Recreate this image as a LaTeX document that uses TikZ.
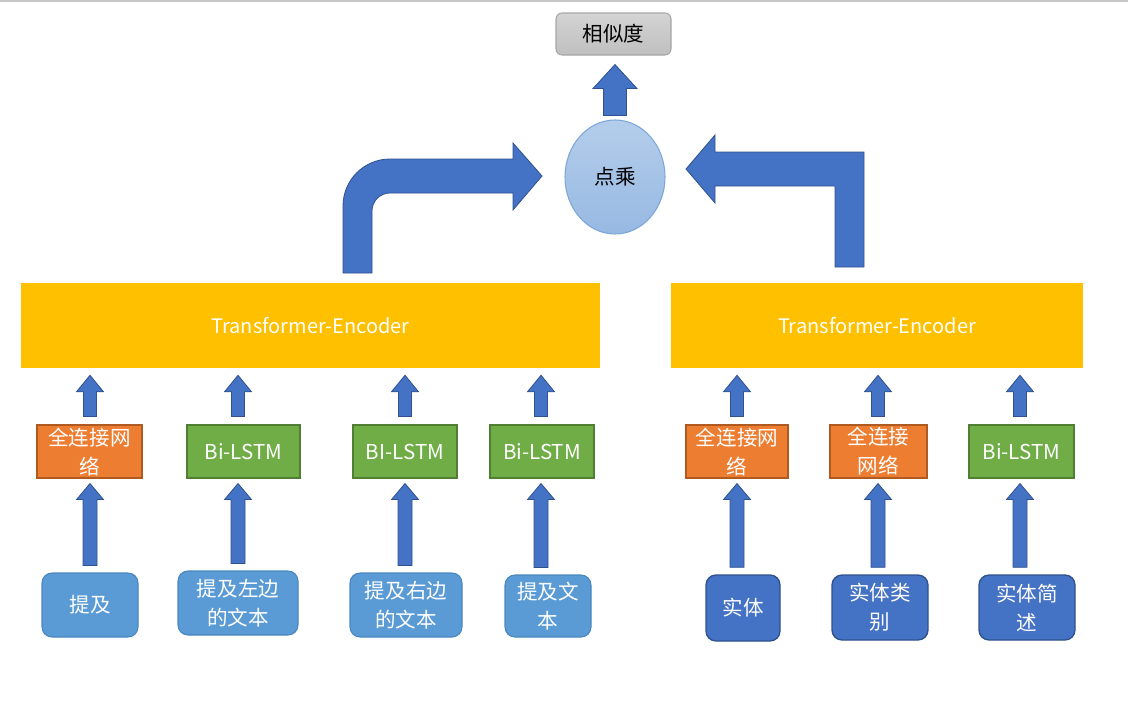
\documentclass[tikz,border=0pt]{standalone}
\usepackage{fontspec}
\setmainfont{Noto Sans CJK SC}
\usetikzlibrary{calc,shapes.geometric}
\definecolor{arrowblue}{HTML}{4472C4}
\definecolor{arrowedge}{HTML}{2F528F}
\definecolor{tfyellow}{HTML}{FFC000}
\definecolor{fcorange}{HTML}{ED7D31}
\definecolor{fcedge}{HTML}{AE5A21}
\definecolor{lstmgreen}{HTML}{70AD47}
\definecolor{lstmedge}{HTML}{507E32}
\definecolor{inlight}{HTML}{5B9BD5}
\definecolor{inlightedge}{HTML}{4A87C0}
\definecolor{indark}{HTML}{4472C4}
\definecolor{indarkedge}{HTML}{2F528F}
\definecolor{elltop}{HTML}{B4CDEB}
\definecolor{ellbot}{HTML}{97B9E2}
\definecolor{elledge}{HTML}{7DA7DA}
\tikzset{
  sz/.style 2 args={minimum width=#1*0.75pt, minimum height=#2*0.75pt},
  box/.style={inner sep=0pt, align=center, text=white,
    font=\fontsize{15.4pt}{21.75pt}\selectfont},
  tfbox/.style={box, fill=tfyellow, font=\fontsize{15pt}{18pt}\selectfont},
  fcbox/.style={box, fill=fcorange, draw=fcedge, line width=0.8pt},
  lstmbox/.style={box, fill=lstmgreen, draw=lstmedge, line width=0.8pt},
  inlightbox/.style={box, fill=inlight, draw=inlightedge, rounded corners=7.5pt, line width=0.8pt},
  indarkbox/.style={box, fill=indark, draw=indarkedge, rounded corners=7.5pt, line width=1pt},
  simbox/.style={box, text=black, top color=black!17, bottom color=black!25, draw=black!35,
    rounded corners=4.5pt, line width=0.8pt},
  dotell/.style={box, text=black, ellipse, top color=elltop, bottom color=ellbot, draw=elledge,
    line width=0.8pt},
  blockarr/.style={fill=arrowblue, draw=arrowedge, line width=0.6pt, line join=miter},
}
% block arrow pointing up: #1 base point, #2 tip point, #3 shaft half-width, #4 head half-width, #5 head length (px)
\newcommand\blockarrow[5]{%
  \path[blockarr] let \p1=#1, \p2=#2 in
    ({\x1-#3*0.75pt},{\y1}) -- ({\x1-#3*0.75pt},{\y2-#5*0.75pt})
    -- ({\x1-#4*0.75pt},{\y2-#5*0.75pt}) -- ({\x1},{\y2})
    -- ({\x1+#4*0.75pt},{\y2-#5*0.75pt}) -- ({\x1+#3*0.75pt},{\y2-#5*0.75pt})
    -- ({\x1+#3*0.75pt},{\y1}) -- cycle;}
\begin{document}
\begin{tikzpicture}[x=0.75pt,y=-0.75pt]
\useasboundingbox (0,0) rectangle (1128,721);
\draw[black!22, line width=1.5pt] (0,0.8) -- (1128,0.8);

% top
\node[simbox, sz={115}{42}] (sim) at (613.5,34) {相似度};
\node[dotell, sz={100}{114}] (dot) at (615,177) {点乘};

% transformers
\node[tfbox, sz={579}{85}] (tfL) at (310.5,325.5) {Transformer-Encoder};
\node[tfbox, sz={412}{85}] (tfR) at (877,325.5) {Transformer-Encoder};

% modules
\node[fcbox, sz={105}{53}] (m1) at (89.5,451.5) {全连接网\\络};
\node[lstmbox, sz={113}{53}] (m2) at (243.5,451.5) {Bi-LSTM};
\node[lstmbox, sz={104}{53}] (m3) at (405,451.5) {BI-LSTM};
\node[lstmbox, sz={104}{53}] (m4) at (542,451.5) {Bi-LSTM};
\node[fcbox, sz={102}{53}] (m5) at (737,451.5) {全连接网\\络};
\node[fcbox, sz={97}{53}] (m6) at (878.5,451.5) {全连接\\网络};
\node[lstmbox, sz={105}{53}] (m7) at (1021.5,451.5) {Bi-LSTM};

% inputs
\node[inlightbox, sz={96}{64}] (in1) at (90,605) {提及};
\node[inlightbox, sz={120}{64}] (in2) at (238,603) {提及左边\\的文本};
\node[inlightbox, sz={112}{64}] (in3) at (406,605) {提及右边\\的文本};
\node[inlightbox, sz={86}{62}] (in4) at (548,606) {提及文\\本};
\node[indarkbox, sz={74}{66}] (in5) at (743,608) {实体};
\node[indarkbox, sz={96}{65}] (in6) at (880,607.5) {实体类\\别};
\node[indarkbox, sz={96}{65}] (in7) at (1027,607.5) {实体简\\述};

% arrow columns
\coordinate (c1) at (90,0);
\coordinate (c2) at (238,0);
\coordinate (c3) at (405,0);
\coordinate (c4) at (541,0);
\coordinate (c5) at (737,0);
\coordinate (c6) at (878,0);
\coordinate (c7) at (1020,0);

% input -> module arrows
\foreach \k in {1,2,3,4,5,6,7}{
  \blockarrow{($(in\k.north -| c\k)+(0,-7)$)}{($(m\k.south -| c\k)+(0,5)$)}{7}{13.5}{16}
}
% module -> transformer arrows
\foreach \k in {1,2,3,4}{
  \blockarrow{($(m\k.north -| c\k)+(0,-8)$)}{($(tfL.south -| c\k)+(0,7)$)}{6.5}{13.5}{16.5}
}
\foreach \k in {5,6,7}{
  \blockarrow{($(m\k.north -| c\k)+(0,-8)$)}{($(tfR.south -| c\k)+(0,7)$)}{6.5}{13.5}{16.5}
}
% dot -> similarity
\blockarrow{($(dot.north)+(0,-4)$)}{($(sim.south -| dot.north)+(0,9)$)}{11.5}{22}{24}

% bent arrow from left transformer to dot product
\path[blockarr] (343,273) -- (343,206) .. controls (343,180) and (364,159) .. (390,159)
  -- (513,159) -- (513,143) -- (542,176) -- (513,210) -- (513,193) -- (390,193)
  .. controls (380,193) and (372,201) .. (372,211) -- (372,273) -- cycle;
% bent arrow from right transformer to dot product
\path[blockarr] (835,267) -- (835,186) -- (715,186) -- (715,203) -- (686,169)
  -- (715,135) -- (715,152) -- (864,152) -- (864,267) -- cycle;
\end{tikzpicture}
\end{document}
